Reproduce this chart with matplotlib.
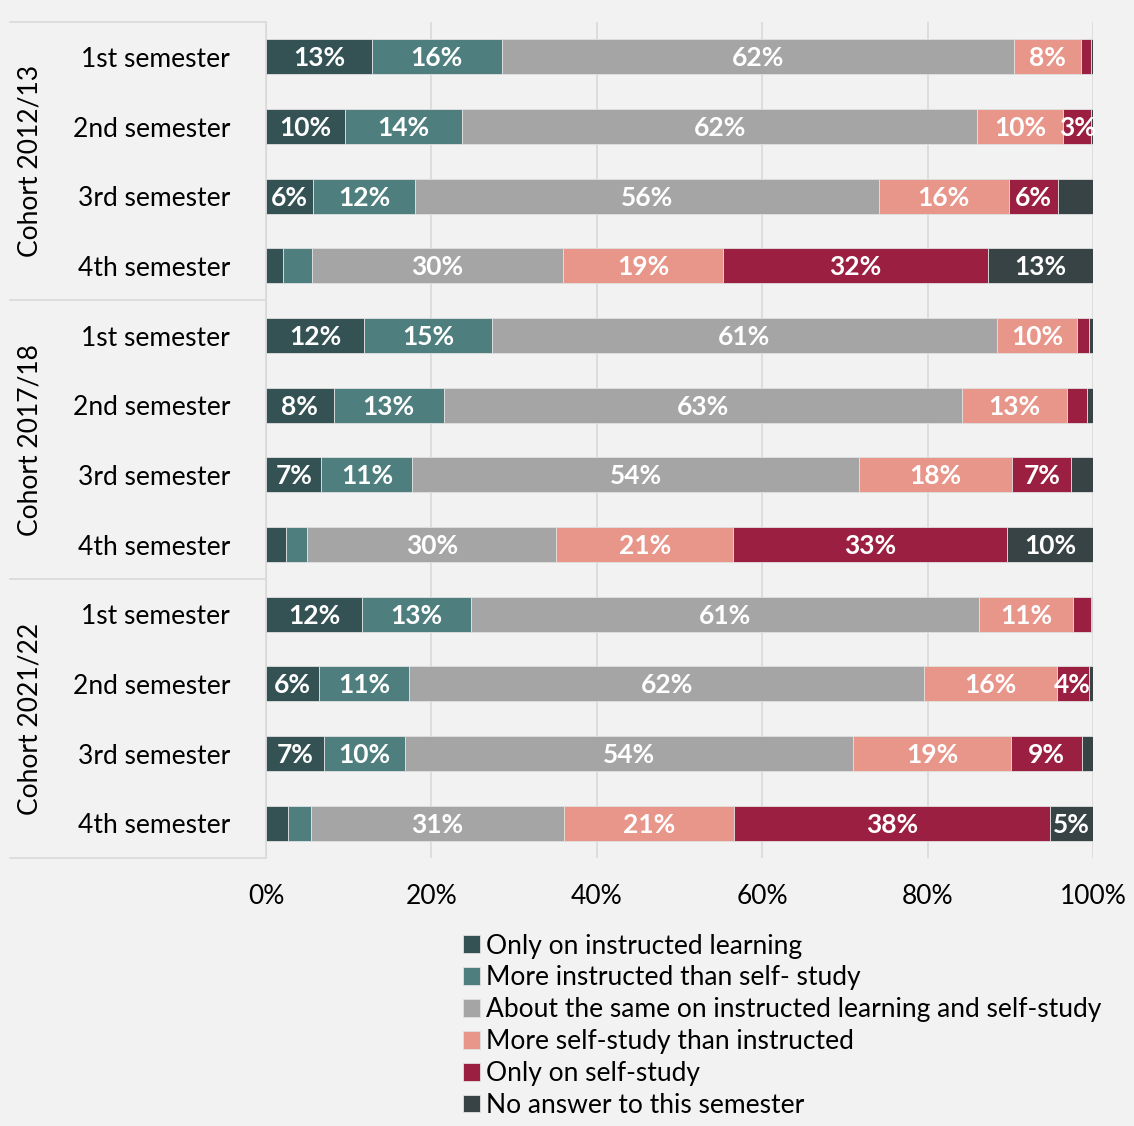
import numpy as np
import matplotlib.pyplot as plt
from matplotlib.lines import Line2D

plt.rcParams['font.family'] = ['Lato', 'DejaVu Sans']

# data
semesters = ['1st semester', '2nd semester', '3rd semester', '4th semester'] * 3
cohorts = ['Cohort 2012/13', 'Cohort 2017/18', 'Cohort 2021/22']
series = ['Only on instructed learning',
          'More instructed than self- study',
          'About the same on instructed learning and self-study',
          'More self-study than instructed',
          'Only on self-study',
          'No answer to this semester']
only_instructed = [12.8, 9.6, 5.7, 2.1, 11.9, 8.2, 6.7, 2.4, 11.6, 6.4, 7.0, 2.7]
more_instructed = [15.7, 14.1, 12.3, 3.5, 15.4, 13.3, 11.0, 2.6, 13.2, 10.9, 9.8, 2.7]
about_same = [61.9, 62.3, 56.1, 30.3, 61.1, 62.6, 54.0, 30.1, 61.4, 62.3, 54.2, 30.6]
more_self = [8.2, 10.4, 15.7, 19.4, 9.7, 12.8, 18.5, 21.4, 11.4, 16.0, 19.1, 20.6]
only_self = [1.1, 3.4, 6.0, 32.0, 1.4, 2.4, 7.2, 33.1, 2.2, 3.9, 8.6, 38.2]
no_answer = [0.3, 0.2, 4.2, 12.7, 0.5, 0.7, 2.6, 10.4, 0.1, 0.5, 1.3, 5.2]
# which segments carry a printed label
show_label = [
    [1, 1, 1, 0, 1, 1, 1, 0, 1, 1, 1, 0],
    [1, 1, 1, 0, 1, 1, 1, 0, 1, 1, 1, 0],
    [1] * 12,
    [1] * 12,
    [0, 1, 1, 1, 0, 0, 1, 1, 0, 1, 1, 1],
    [0, 0, 0, 1, 0, 0, 0, 1, 0, 0, 0, 1],
]
colors = ['#345254', '#4e7f7e', '#a5a5a5', '#e8958a', '#9b1f41', '#374345']

values = [only_instructed, more_instructed, about_same, more_self, only_self, no_answer]

bg = '#f2f2f2'
fs = 19
fig = plt.figure(figsize=(11.34, 11.26), dpi=100, facecolor=bg)
ax = fig.add_axes([266 / 1134, 1 - 858 / 1126, (1093 - 266) / 1134, (858 - 22) / 1126])
ax.set_facecolor(bg)

y = np.arange(len(semesters))
left = np.zeros(len(semesters))
for vals, col, name, mask in zip(values, colors, series, show_label):
    vals = np.array(vals)
    ax.barh(y, vals, left=left, height=0.5, color=col, label=name,
            edgecolor='#e0e0e0', linewidth=0.6, zorder=3)
    for yi, (v, l, m) in enumerate(zip(vals, left, mask)):
        if m:
            ax.text(l + v / 2, yi + 0.02, f'{round(v):.0f}%', ha='center', va='center',
                    color='white', fontsize=19, fontweight='bold', zorder=4)
    left += vals

ax.set_xlim(0, 100)
ax.set_ylim(len(semesters) - 0.5, -0.5)
ax.set_xticks(np.arange(0, 101, 20))
ax.set_xticklabels([f'{t}%' for t in range(0, 101, 20)], fontsize=fs)
ax.set_yticks(y)
ax.set_yticklabels(semesters, fontsize=fs)
ax.tick_params(axis='x', length=0, pad=19)
ax.tick_params(axis='y', length=0, pad=26)
ax.grid(axis='x', color='#d9d9d9', linewidth=1.2, zorder=0)
for s in ['top', 'right', 'bottom']:
    ax.spines[s].set_visible(False)
ax.spines['left'].set_color('#d9d9d9')
ax.spines['left'].set_linewidth(1.2)

# cohort separators and labels on the left
x0 = 10 / 1134
x1 = 266 / 1134
for yp in [22, 300, 579, 858]:
    fig.add_artist(Line2D([x0, x1], [1 - yp / 1126] * 2, color='#d9d9d9', lw=1.2))
for i, c in enumerate(cohorts):
    ax.text(-0.285, 1.5 + 4 * i, c, rotation=90, ha='center', va='center',
            fontsize=fs, transform=ax.get_yaxis_transform())

handles, labels = ax.get_legend_handles_labels()
leg = fig.legend(handles, labels, loc='upper left', bbox_to_anchor=(452 / 1134, 1 - 923 / 1126),
                 frameon=False, fontsize=fs, handlelength=0.65, handleheight=0.65,
                 handletextpad=0.25, labelspacing=0.26, borderaxespad=0)

fig.savefig('out.png', dpi=100, facecolor=bg)
